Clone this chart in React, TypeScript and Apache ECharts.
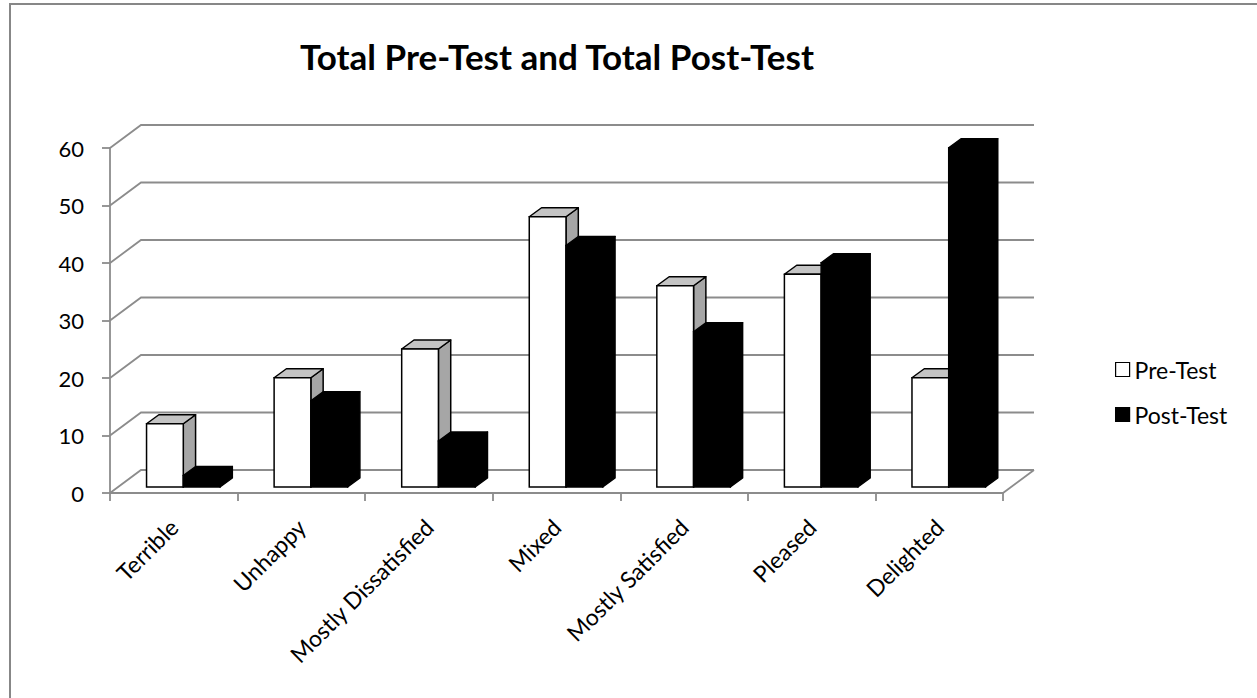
import React, { useEffect, useRef } from 'react';
import * as echarts from 'echarts';

const categories = ['Terrible', 'Unhappy', 'Mostly Dissatisfied', 'Mixed', 'Mostly Satisfied', 'Pleased', 'Delighted'];
const preTest = [11, 19, 24, 47, 35, 37, 19];
const postTest = [2, 15, 8, 42, 27, 39, 59];
const yTicks = [0, 10, 20, 30, 40, 50, 60];
const seriesNames = ['Pre-Test', 'Post-Test'];
const titleText = 'Total Pre-Test and Total Post-Test';

const FONT = 'Lato, "Open Sans", sans-serif';
const GRID_COLOR = '#8c8c8c';
const DX = 31;
const DY = 23;
const BF_DX = 9.5;
const BF_DY = 6;
const BD_DX = 12.3;
const BD_DY = 9;
const BAR_FRAC = 0.288;

function makeBarRenderer(seriesIndex: number) {
  const isPre = seriesIndex === 0;
  return (params: any, api: any) => {
    const idx = api.value(0);
    const v = api.value(1);
    const top = api.coord([idx, v]);
    const base = api.coord([idx, 0]);
    const band = api.size([1, 0])[0];
    const w = band * BAR_FRAC;
    const x0 = top[0] - w + seriesIndex * w + BF_DX;
    const yT = top[1] - BF_DY;
    const yB = base[1] - BF_DY;
    const stroke = '#000';
    const lw = 1.5;
    return {
      type: 'group',
      children: [
        {
          type: 'polygon',
          shape: { points: [[x0 + w, yT], [x0 + w + BD_DX, yT - BD_DY], [x0 + w + BD_DX, yB - BD_DY], [x0 + w, yB]] },
          style: { fill: isPre ? '#a6a6a6' : '#000', stroke, lineWidth: lw, lineJoin: 'round' },
        },
        {
          type: 'polygon',
          shape: { points: [[x0, yT], [x0 + BD_DX, yT - BD_DY], [x0 + w + BD_DX, yT - BD_DY], [x0 + w, yT]] },
          style: { fill: isPre ? '#c4c4c4' : '#000', stroke, lineWidth: lw, lineJoin: 'round' },
        },
        {
          type: 'rect',
          shape: { x: x0, y: yT, width: w, height: yB - yT },
          style: { fill: isPre ? '#fff' : '#000', stroke, lineWidth: lw },
        },
      ],
    };
  };
}

function gridRenderer(params: any, api: any) {
  const cs = params.coordSys;
  const v = api.value(1);
  const y = api.coord([0, v])[1];
  const style = { stroke: GRID_COLOR, lineWidth: 1.8, fill: 'none' };
  const children: any[] = [
    {
      type: 'polyline',
      shape: { points: [[cs.x, y], [cs.x + DX, y - DY], [cs.x + cs.width + DX, y - DY]] },
      style,
    },
  ];
  if (v === 0) {
    children.push({
      type: 'line',
      shape: { x1: cs.x + cs.width, y1: y, x2: cs.x + cs.width + DX, y2: y - DY },
      style,
    });
  }
  return { type: 'group', children };
}

export default function App() {
  const ref = useRef<HTMLDivElement>(null);
  useEffect(() => {
    if (!ref.current) return;
    const chart = echarts.init(ref.current, undefined, { renderer: 'svg' });
    chart.setOption({
      animation: false,
      backgroundColor: '#fff',
      graphic: [
        {
          type: 'rect',
          shape: { x: 10, y: 4, width: 1400, height: 900 },
          style: { fill: 'none', stroke: '#878787', lineWidth: 2 },
          silent: true,
          z: 0,
        },
        {
          type: 'text',
          x: 557,
          y: 56,
          style: {
            text: titleText,
            font: `bold 35px ${FONT}`,
            fill: '#000',
            align: 'center',
            verticalAlign: 'middle',
          },
          z: 10,
        },
      ],
      legend: {
        orient: 'vertical',
        left: 1110,
        top: 353,
        itemWidth: 14,
        itemHeight: 14,
        itemGap: 22,
        icon: 'rect',
        selectedMode: false,
        textStyle: { fontFamily: FONT, fontSize: 23, color: '#000' },
        data: [
          { name: seriesNames[0], itemStyle: { color: '#fff', borderColor: '#000', borderWidth: 1.2 } },
          { name: seriesNames[1], itemStyle: { color: '#000', borderColor: '#000', borderWidth: 1.2 } },
        ],
      },
      grid: { left: 110, top: 148, width: 893, height: 345, containLabel: false },
      xAxis: {
        type: 'category',
        data: categories,
        boundaryGap: true,
        axisLine: { show: true, lineStyle: { color: GRID_COLOR, width: 1.8 } },
        axisTick: { show: true, interval: 0, length: 8, lineStyle: { color: GRID_COLOR, width: 1.8 } },
        axisLabel: { interval: 0, rotate: 45, margin: 30, fontFamily: FONT, fontSize: 23, color: '#000' },
        splitLine: { show: false },
      },
      yAxis: {
        type: 'value',
        min: 0,
        max: 60,
        interval: 10,
        axisLine: { show: true, lineStyle: { color: GRID_COLOR, width: 1.8 } },
        axisTick: { show: true, length: 8, lineStyle: { color: GRID_COLOR, width: 1.8 } },
        axisLabel: { margin: 26, fontFamily: FONT, fontSize: 22, color: '#000' },
        splitLine: { show: false },
      },
      series: [
        {
          type: 'custom',
          name: 'grid3d',
          silent: true,
          clip: false,
          z: 1,
          renderItem: gridRenderer,
          data: yTicks.map((v) => [0, v]),
        },
        {
          type: 'custom',
          name: seriesNames[0],
          clip: false,
          z: 3,
          renderItem: makeBarRenderer(0),
          itemStyle: { color: '#fff', borderColor: '#000' },
          data: preTest.map((v, i) => [i, v]),
        },
        {
          type: 'custom',
          name: seriesNames[1],
          clip: false,
          z: 4,
          renderItem: makeBarRenderer(1),
          itemStyle: { color: '#000' },
          data: postTest.map((v, i) => [i, v]),
        },
      ],
    });
    return () => chart.dispose();
  }, []);
  return <div ref={ref} style={{ position: 'absolute', left: 0, top: 0, width: 1257, height: 698 }} />;
}
